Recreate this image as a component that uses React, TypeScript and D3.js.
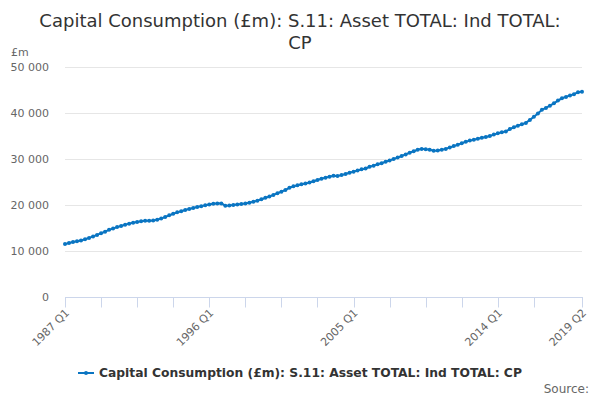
import React, { useEffect, useRef } from "react";
import * as d3 from "d3";

// quarterly values, £m, one row per year (1987 Q1 .. 2019 Q2)
const values: number[] = [
  11500, 11750, 11950, 12100, // 1987
  12300, 12550, 12850, 13150, // 1988
  13500, 13850, 14200, 14600, // 1989
  14900, 15200, 15450, 15700, // 1990
  15950, 16150, 16300, 16450, // 1991
  16550, 16600, 16650, 16800, // 1992
  17050, 17400, 17750, 18100, // 1993
  18400, 18650, 18900, 19150, // 1994
  19350, 19550, 19750, 19950, // 1995
  20100, 20250, 20300, 20350, // 1996
  19850, 19900, 20000, 20100, // 1997
  20200, 20350, 20500, 20700, // 1998
  20950, 21250, 21550, 21850, // 1999
  22200, 22550, 22900, 23250, // 2000
  23750, 24050, 24300, 24500, // 2001
  24650, 24900, 25150, 25450, // 2002
  25700, 25950, 26150, 26350, // 2003
  26300, 26500, 26750, 27000, // 2004
  27250, 27500, 27750, 27950, // 2005
  28300, 28550, 28850, 29100, // 2006
  29400, 29700, 30000, 30300, // 2007
  30650, 31000, 31350, 31700, // 2008
  32000, 32200, 32100, 32000, // 2009
  31800, 31850, 32000, 32200, // 2010
  32500, 32800, 33100, 33450, // 2011
  33750, 34000, 34200, 34400, // 2012
  34600, 34800, 35000, 35300, // 2013
  35600, 35800, 36000, 36500, // 2014
  36900, 37250, 37550, 37850, // 2015
  38500, 39200, 39900, 40700, // 2016
  41100, 41600, 42100, 42700, // 2017
  43200, 43500, 43800, 44100, // 2018
  44500, 44600, // 2019
];

const startYear = 1987;
const categories: string[] = values.map(
  (_, i) => `${startYear + Math.floor(i / 4)} Q${(i % 4) + 1}`
);

const yTicks = [0, 10000, 20000, 30000, 40000, 50000];
const xLabels = ["1987 Q1", "1996 Q1", "2005 Q1", "2014 Q1", "2019 Q2"];
const titleLines = ["Capital Consumption (£m): S.11: Asset TOTAL: Ind TOTAL:", "CP"];
const seriesName = "Capital Consumption (£m): S.11: Asset TOTAL: Ind TOTAL: CP";

const blue = "#0a75c2";
const font = "'DejaVu Sans', sans-serif";

const App: React.FC = () => {
  const svgRef = useRef<SVGSVGElement>(null);

  useEffect(() => {
    if (!svgRef.current) return;
    const width = 600;
    const height = 400;
    const margin = { top: 67, right: 18, bottom: 103, left: 65 };

    const svg = d3.select(svgRef.current);
    svg.selectAll("*").remove();
    svg.attr("width", width).attr("height", height).style("font-family", font);

    const x = d3
      .scalePoint<string>()
      .domain(categories)
      .range([margin.left, width - margin.right]);

    const y = d3
      .scaleLinear()
      .domain([0, 50000])
      .range([height - margin.bottom, margin.top]);

    // title
    svg
      .append("g")
      .selectAll("text")
      .data(titleLines)
      .enter()
      .append("text")
      .attr("x", 300)
      .attr("y", (d, i) => 27 + i * 22)
      .attr("text-anchor", "middle")
      .style("font-size", "18px")
      .style("fill", "#333333")
      .text((d) => d);

    // gridlines + y labels
    const grid = svg.append("g");
    grid
      .selectAll("line")
      .data(yTicks)
      .enter()
      .append("line")
      .attr("x1", margin.left)
      .attr("x2", width - margin.right)
      .attr("y1", (d) => y(d) + 0.5)
      .attr("y2", (d) => y(d) + 0.5)
      .attr("stroke", "#e6e6e6");
    grid
      .selectAll("text")
      .data(yTicks)
      .enter()
      .append("text")
      .attr("x", 49)
      .attr("y", (d) => y(d) + 4)
      .attr("text-anchor", "end")
      .style("font-size", "11px")
      .style("fill", "#666666")
      .text((d) => d3.format(",")(d).replace(/,/g, " "));

    svg
      .append("text")
      .attr("x", 11)
      .attr("y", 56)
      .style("font-size", "11px")
      .style("fill", "#666666")
      .text("£m");

    // x axis
    const xAxis = svg.append("g");
    const y0 = y(0) + 0.5;
    xAxis
      .append("line")
      .attr("x1", margin.left)
      .attr("x2", width - margin.right + 1)
      .attr("y1", y0)
      .attr("y2", y0)
      .attr("stroke", "#ccd6eb");
    const tickCats = categories.filter((d, i) => (i % 9 === 0 && i <= 117) || i === categories.length - 1);
    xAxis
      .selectAll("line.tick")
      .data(tickCats)
      .enter()
      .append("line")
      .attr("class", "tick")
      .attr("x1", (d) => Math.round(x(d) || 0) + 0.5)
      .attr("x2", (d) => Math.round(x(d) || 0) + 0.5)
      .attr("y1", y0)
      .attr("y2", y0 + 10)
      .attr("stroke", "#ccd6eb");
    xAxis
      .selectAll("text")
      .data(xLabels)
      .enter()
      .append("text")
      .attr("transform", (d) => `translate(${(x(d) || 0) + 5},${y0 + 16}) rotate(-45)`)
      .attr("text-anchor", "end")
      .style("font-size", "11px")
      .style("fill", "#666666")
      .text((d) => d);

    // series
    const line = d3
      .line<number>()
      .x((d, i) => x(categories[i]) || 0)
      .y((d) => y(d));

    svg
      .append("path")
      .datum(values)
      .attr("fill", "none")
      .attr("stroke", blue)
      .attr("stroke-width", 2)
      .attr("d", line);

    svg
      .append("g")
      .selectAll("circle")
      .data(values)
      .enter()
      .append("circle")
      .attr("cx", (d, i) => x(categories[i]) || 0)
      .attr("cy", (d) => y(d))
      .attr("r", 2)
      .attr("fill", blue);

    // legend
    const legend = svg.append("g").attr("transform", "translate(78,373)");
    legend
      .append("line")
      .attr("x1", 0)
      .attr("x2", 16)
      .attr("stroke", blue)
      .attr("stroke-width", 2);
    legend.append("circle").attr("cx", 8).attr("r", 2).attr("fill", blue);
    legend
      .append("text")
      .attr("x", 21)
      .attr("y", 4)
      .style("font-size", "12.3px")
      .style("font-weight", "bold")
      .style("fill", "#333333")
      .text(seriesName);

    svg
      .append("text")
      .attr("x", 589)
      .attr("y", 393)
      .attr("text-anchor", "end")
      .style("font-size", "12px")
      .style("fill", "#666666")
      .text("Source:");
  }, []);

  return <svg ref={svgRef} style={{ position: "absolute", left: 0, top: 0 }}></svg>;
};

export default App;
